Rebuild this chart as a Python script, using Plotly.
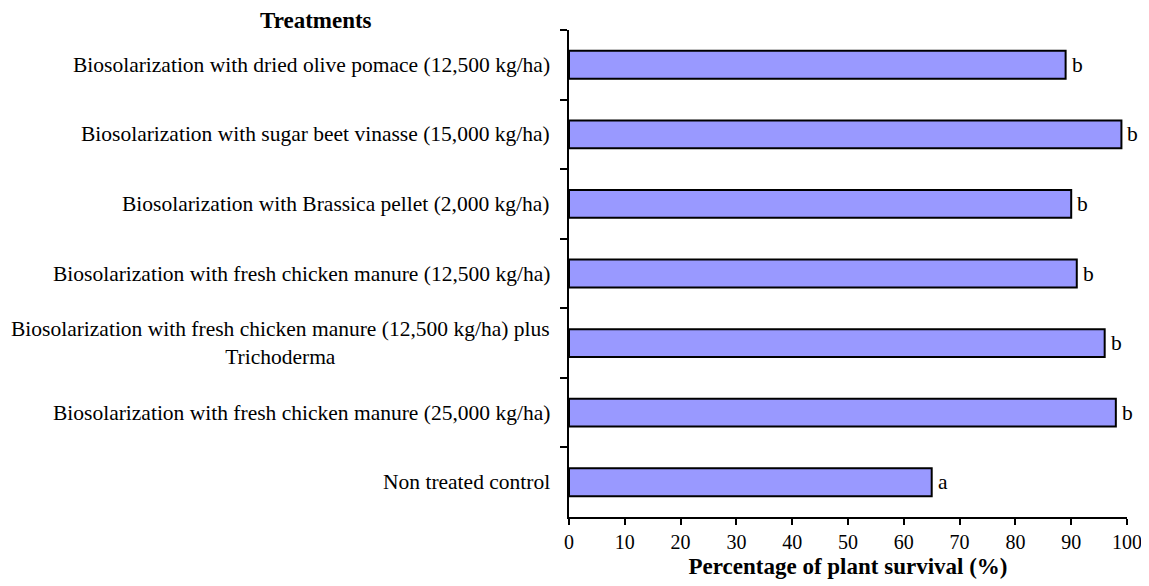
import plotly.graph_objects as go

treatments = [
    "Biosolarization with dried olive pomace (12,500 kg/ha)",
    "Biosolarization with sugar beet vinasse (15,000 kg/ha)",
    "Biosolarization with Brassica pellet (2,000 kg/ha)",
    "Biosolarization with fresh chicken manure (12,500 kg/ha)",
    "Biosolarization with fresh chicken manure (12,500 kg/ha) plus<br>Trichoderma",
    "Biosolarization with fresh chicken manure (25,000 kg/ha)",
    "Non treated control",
]
survival = [89, 99, 90, 91, 96, 98, 65]
letters = ["b", "b", "b", "b", "b", "b", "a"]
x_ticks = [0, 10, 20, 30, 40, 50, 60, 70, 80, 90, 100]

FONT = "Liberation Serif, Times New Roman, serif"
cats = [f"c{i}" for i in range(len(treatments))]

fig = go.Figure()
fig.add_trace(go.Bar(
    x=survival, y=cats, orientation="h", width=0.4,
    marker=dict(color="#9999FF", line=dict(color="black", width=2)),
    hoverinfo="x",
))

ann = []
for c, t in zip(cats, treatments):
    ann.append(dict(x=0, xref="paper", y=c, yref="y", text=t, showarrow=False,
                    xanchor="right", yanchor="middle", align="center", xshift=-17,
                    font=dict(family=FONT, size=21.5, color="black")))
for c, v, l in zip(cats, survival, letters):
    ann.append(dict(x=v, xref="x", y=c, yref="y", text=l, showarrow=False,
                    xanchor="left", yanchor="middle", xshift=4,
                    font=dict(family=FONT, size=21.5, color="black")))
ann.append(dict(x=-0.4534, xref="paper", y=1.0205, yref="paper", text="<b>Treatments</b>",
                showarrow=False, xanchor="center", yanchor="middle",
                font=dict(family=FONT, size=23, color="black")))

fig.update_layout(
    width=1149, height=586,
    margin=dict(l=561, r=30, t=22, b=77),
    paper_bgcolor="white", plot_bgcolor="white",
    showlegend=False,
    font=dict(family=FONT, size=20, color="black"),
    annotations=ann,
    xaxis=dict(range=[0, 100], tickvals=x_ticks, ticks="outside", ticklen=6, tickwidth=1.5,
               tickcolor="black", showline=True, linecolor="black", linewidth=1.5,
               showgrid=False, zeroline=False,
               tickfont=dict(family=FONT, size=20, color="black"),
               title=dict(text="<b>Percentage of plant survival (%)</b>", standoff=6,
                          font=dict(family=FONT, size=23, color="black"))),
    yaxis=dict(type="category", categoryorder="array", categoryarray=cats,
               range=[6.5, -0.5], tickson="boundaries", ticks="outside", ticklen=7,
               tickwidth=1.5, tickcolor="black", showticklabels=False,
               showline=True, linecolor="black", linewidth=1.5,
               showgrid=False, zeroline=False),
)

fig.write_html("out.html")
